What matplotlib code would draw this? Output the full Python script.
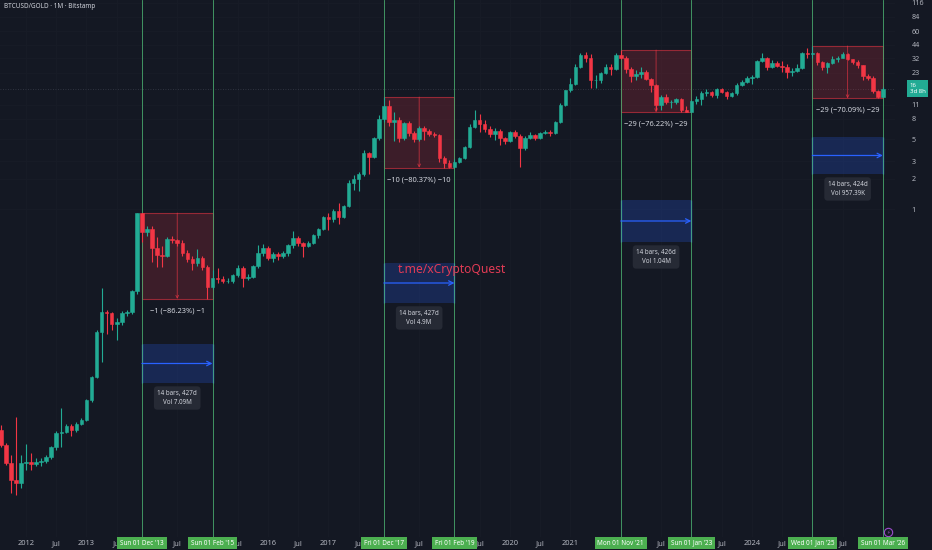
import matplotlib
matplotlib.use("Agg")
import matplotlib.pyplot as plt
import numpy as np
import pandas as pd
from matplotlib.patches import Rectangle
from matplotlib.ticker import NullLocator

plt.rcParams['font.family'] = ['Noto Sans', 'DejaVu Sans']

# BTCUSD/GOLD monthly candles, Aug 2011 .. Mar 2026 (open = previous close)
months = pd.period_range("2011-08", "2026-03", freq="M")
first_open = 0.00617
closes = [
    0.00437, 0.00288, 0.00195, 0.00182, 0.00288,
    0.00295, 0.00282, 0.00295, 0.00302, 0.00331, 0.00417, 0.00575, 0.00589, 0.00676, 0.00617, 0.00708, 0.00776,
    0.0123, 0.0209, 0.0589, 0.0933, 0.0912, 0.0708, 0.0741, 0.0912, 0.0933, 0.151, 0.912, 0.589,
    0.631, 0.407, 0.347, 0.339, 0.501, 0.490, 0.457, 0.363, 0.316, 0.288, 0.324, 0.263,
    0.166, 0.204, 0.200, 0.191, 0.191, 0.219, 0.257, 0.204, 0.209, 0.269, 0.363, 0.407,
    0.324, 0.355, 0.339, 0.363, 0.437, 0.513, 0.457, 0.427, 0.457, 0.550, 0.631, 0.832,
    0.794, 0.955, 0.832, 1.072, 1.820, 1.995, 2.239, 3.631, 3.311, 5.129, 7.943, 10.72,
    7.413, 7.762, 5.129, 7.244, 5.754, 5.012, 6.457, 6.026, 5.623, 5.495, 3.236, 2.884,
    2.630, 2.951, 3.236, 4.169, 6.607, 7.762, 7.079, 6.310, 5.623, 6.026, 5.129, 4.786,
    5.888, 5.370, 4.074, 5.129, 5.495, 5.129, 5.754, 5.888, 5.754, 7.413, 11.09, 15.31,
    17.78, 26.06, 34.43, 32.51, 19.50, 19.63, 22.91, 26.0, 25.12, 34.36, 32.36, 25.12,
    21.38, 22.39, 23.44, 19.95, 17.38, 10.96, 13.18, 11.75, 11.75, 12.59, 9.772, 9.28,
    12.02, 12.59, 14.45, 14.79, 13.80, 15.85, 14.79, 13.49, 14.45, 17.38, 18.62, 20.42,
    20.89, 30.20, 32.36, 26.30, 28.84, 26.92, 26.30, 23.44, 23.99, 25.70, 36.31, 35.48,
    36.6, 29.5, 26.4, 28.6, 31.8, 32.4, 35.2, 31.4, 29.5, 27.4, 21.4, 20.3,
    15.0, 13.3, 16.0,
]
highs = [
    0.00692, 0.00457, 0.00347, 0.00832, 0.00347,
    0.00447, 0.00363, 0.00324, 0.00324, 0.00347, 0.00427, 0.00603, 0.0102, 0.00708, 0.00708, 0.00741, 0.00813,
    0.0126, 0.0214, 0.0617, 0.162, 0.0977, 0.0933, 0.0813, 0.0955, 0.0977, 0.155, 0.912, 0.912,
    0.676, 0.676, 0.525, 0.427, 0.525, 0.537, 0.501, 0.490, 0.389, 0.339, 0.398, 0.339,
    0.275, 0.245, 0.257, 0.214, 0.204, 0.224, 0.275, 0.269, 0.224, 0.275, 0.437, 0.447,
    0.427, 0.372, 0.372, 0.380, 0.447, 0.603, 0.537, 0.468, 0.479, 0.562, 0.646, 0.851,
    0.912, 1.0, 1.148, 1.096, 1.950, 2.188, 2.344, 3.890, 3.715, 5.248, 8.710, 13.18,
    12.30, 9.333, 8.318, 7.413, 7.586, 6.026, 6.761, 6.761, 6.310, 5.888, 5.6, 3.388,
    3.090, 3.162, 3.311, 4.266, 7.079, 9.772, 8.913, 7.762, 6.761, 6.457, 6.310, 5.248,
    6.026, 6.166, 5.6, 5.370, 5.888, 5.623, 5.888, 6.166, 6.166, 7.586, 11.48, 15.49,
    20.42, 28.18, 36.31, 37.15, 35.48, 21.88, 23.44, 28.18, 28.18, 36.31, 38.90, 33.88,
    26.30, 24.55, 26.30, 24.55, 20.42, 17.8, 13.80, 14.13, 12.30, 12.88, 12.88, 10.72,
    12.30, 13.49, 15.14, 15.85, 15.14, 16.22, 16.22, 15.14, 14.79, 18.20, 19.50, 21.38,
    21.88, 30.90, 36.31, 33.11, 30.90, 30.20, 30.20, 28.18, 25.70, 28.18, 37.5, 41.0,
    42.66, 37.5, 30.5, 29.5, 34.0, 33.5, 37.0, 36.5, 31.5, 31.0, 27.8, 22.5,
    21.5, 15.5, 16.6,
]
lows = [
    0.00417, 0.00275, 0.00145, 0.00138, 0.00162,
    0.00246, 0.00246, 0.00269, 0.00269, 0.00288, 0.00316, 0.00389, 0.00417, 0.00575, 0.00537, 0.00589, 0.00692,
    0.00759, 0.01175, 0.0204, 0.0295, 0.0562, 0.0617, 0.0490, 0.0692, 0.0851, 0.0891, 0.141, 0.47,
    0.537, 0.295, 0.263, 0.263, 0.331, 0.457, 0.427, 0.339, 0.295, 0.245, 0.269, 0.245,
    0.126, 0.158, 0.182, 0.182, 0.182, 0.182, 0.209, 0.166, 0.195, 0.204, 0.257, 0.339,
    0.309, 0.295, 0.309, 0.324, 0.339, 0.407, 0.427, 0.331, 0.417, 0.447, 0.513, 0.617,
    0.617, 0.741, 0.708, 0.813, 1.047, 1.549, 1.514, 2.138, 2.239, 3.236, 4.898, 7.413,
    6.761, 4.786, 4.677, 4.898, 5.370, 4.677, 4.786, 4.898, 5.370, 5.248, 2.951, 2.59,
    2.60, 2.60, 2.884, 3.162, 4.074, 6.457, 5.888, 5.888, 5.248, 4.85, 4.365, 4.467,
    4.677, 5.129, 2.630, 3.9, 5.012, 4.898, 5.012, 5.623, 5.370, 5.623, 7.2, 10.72,
    14.79, 17.38, 25.70, 29.51, 16.22, 16.22, 18.20, 22.39, 21.88, 24.55, 31.62, 23.0,
    18.62, 19.50, 20.42, 19.50, 14.79, 9.772, 9.772, 11.22, 10.23, 11.22, 9.40, 9.25,
    9.26, 11.22, 10.96, 13.49, 13.18, 12.88, 14.45, 12.59, 13.18, 13.80, 16.98, 18.20,
    17.78, 20.42, 29.51, 24.55, 25.70, 26.30, 23.44, 20.42, 21.38, 23.5, 25.0, 32.5,
    32.4, 27.5, 24.8, 22.8, 28.0, 29.5, 32.0, 31.0, 28.5, 25.5, 19.5, 19.5,
    14.5, 12.76, 13.1,
]
last_price = "16"
bar_countdown = "3d 8h"

# drawings on the chart
range_periods = [("2013-12", "2015-02"), ("2017-12", "2019-02"), ("2021-11", "2023-01"), ("2025-01", "2026-03")]
range_texts = ["−1 (−86.23%) −1", "−10 (−80.37%) −10", "−29 (−76.22%) −29", "−29 (−70.09%) −29"]
date_boxes = [(0.0182, 0.0447), (0.115, 0.288), (0.468, 1.23), (2.24, 5.25)]
date_texts = ["14 bars, 427d\nVol 7.09M", "14 bars, 427d\nVol 4.9M", "14 bars, 426d\nVol 1.04M", "14 bars, 424d\nVol 957.39K"]
tag_texts = ["Sun 01 Dec '13", "Sun 01 Feb '15", "Fri 01 Dec '17", "Fri 01 Feb '19",
             "Mon 01 Nov '21", "Sun 01 Jan '23", "Wed 01 Jan '25", "Sun 01 Mar '26"]
# time axis labels still visible next to the date tags
time_ticks = ["2012-01", "2012-07", "2013-01", "2013-07", "2014-07", "2015-07", "2016-01", "2016-07",
              "2017-01", "2017-07", "2018-07", "2019-07", "2020-01", "2020-07", "2021-01", "2022-07",
              "2023-07", "2024-01", "2024-07", "2025-07"]
price_ticks = [116, 84, 60, 44, 32, 23, 11, 8, 5, 3, 2, 1]

BG = '#141823'
UP = '#22ab94'
DOWN = '#f23645'
TXT = '#b2b5be'


def month_pos(p):
    p = pd.Period(p, freq="M")
    return (p.year - 2012) * 12 + p.month - 1


x = np.array([month_pos(p) for p in months])
closes = np.array(closes)
highs = np.array(highs)
lows = np.array(lows)
opens = np.r_[first_open, closes[:-1]]

fig = plt.figure(figsize=(9.32, 5.5), dpi=100, facecolor=BG)
ax = fig.add_axes([0, 13 / 550, 895 / 932, 537 / 550])
ax.set_facecolor(BG)
ax.set_yscale('log')
ax.set_xlim(-5.16, 172.4)
ax.set_ylim(5.25e-4, 123.0)
for s in ax.spines.values():
    s.set_visible(False)

ax.set_xticks([month_pos(t) for t in time_ticks])
ax.set_xticklabels([t[:4] if t.endswith("-01") else "Jul" for t in time_ticks])
ax.tick_params(axis='x', length=0, pad=2, labelsize=5.4, labelcolor=TXT)

ax.yaxis.tick_right()
ax.set_yticks(price_ticks)
ax.set_yticklabels([str(v) for v in price_ticks])
ax.yaxis.set_minor_locator(NullLocator())
ax.tick_params(axis='y', length=0, pad=12, labelsize=5.2, labelcolor=TXT)
ax.grid(True, color='#181c27', lw=0.6)
ax.set_axisbelow(True)

# candles
up = closes >= opens
col = np.where(up, UP, DOWN)
ax.vlines(x, lows, highs, colors=col, lw=0.8, zorder=3)
body_lo = np.minimum(opens, closes)
body_hi = np.maximum(opens, closes)
ax.bar(x, body_hi - body_lo, bottom=body_lo, width=0.7, color=col,
       edgecolor=col, linewidth=0.4, zorder=4)

# current price line
ax.axhline(float(last_price), color='#3a3e4a', lw=0.6, ls=(0, (1, 2)), zorder=1)

# range drawings
for (p0, p1), rtxt, (b0, b1), dtxt in zip(range_periods, range_texts, date_boxes, date_texts):
    i0, i1 = month_pos(p0), month_pos(p1)
    sel = (x >= i0) & (x <= i1)
    top = highs[sel].max()
    bot = lows[sel].min()
    xc = (i0 + i1) / 2
    ax.add_patch(Rectangle((i0, bot), i1 - i0, top - bot, facecolor=(0.95, 0.21, 0.27, 0.18),
                           edgecolor=(0.95, 0.21, 0.27, 0.55), lw=0.8, zorder=2))
    ax.annotate('', xy=(xc, bot), xytext=(xc, top),
                arrowprops=dict(arrowstyle='->', color=(0.95, 0.21, 0.27, 0.7), lw=0.6,
                                shrinkA=0, shrinkB=0, mutation_scale=5), zorder=2)
    ax.annotate(rtxt, xy=(xc, bot), xytext=(0, -12), textcoords='offset pixels',
                ha='center', va='center', fontsize=5.4, color='#d1d4dc', zorder=6)

    ax.add_patch(Rectangle((i0, b0), i1 - i0, b1 - b0, facecolor=(0.16, 0.38, 1.0, 0.22),
                           edgecolor='none', zorder=2))
    ax.vlines([i0, i1], b0, b1, colors='#2962ff', lw=0.9, zorder=2)
    ym = np.sqrt(b0 * b1)
    ax.annotate('', xy=(i1, ym), xytext=(i0, ym),
                arrowprops=dict(arrowstyle='->', color='#2962ff', lw=0.9,
                                shrinkA=0, shrinkB=0, mutation_scale=8), zorder=3)
    ax.annotate(dtxt, xy=(xc, b0), xytext=(0, -15), textcoords='offset pixels',
                ha='center', va='center', fontsize=4.5, color='#d1d4dc', linespacing=1.5,
                bbox=dict(boxstyle='round,pad=0.55', fc='#262a35', ec='none'), zorder=6)

# vertical marker lines and date tags
tag_pos = []
for p0, p1 in range_periods:
    tag_pos += [month_pos(p0), month_pos(p1)]
for xp, t in zip(tag_pos, tag_texts):
    ax.axvline(xp, color='#48a86c', lw=0.6, zorder=2)
    ax.text(xp, -0.0112, t, transform=ax.get_xaxis_transform(), ha='center', va='center',
            fontsize=4.6, color='white', clip_on=False, zorder=10,
            bbox=dict(boxstyle='square,pad=0.45', fc='#4caf50', ec='none'))

# watermark
ax.text(84.5, 0.251, "t.me/xCryptoQuest", ha='center', va='center',
        fontsize=8.7, color='#e23b55', zorder=7)

# last price tag
ax.text(1.0165, float(last_price), last_price + "\n" + bar_countdown,
        transform=ax.get_yaxis_transform(), ha='left', va='center', fontsize=4.3,
        color='white', linespacing=1.3, clip_on=False, zorder=10,
        bbox=dict(boxstyle='square,pad=0.45', fc=UP, ec='none'))

# small event marker
ax.plot(171.0, 5.9e-4, marker='o', ms=6, mfc=BG, mec='#9c4dcc', mew=0.8, zorder=9, clip_on=False)
ax.text(171.0, 5.9e-4, "⚡", ha='center', va='center', fontsize=3.5, color='#9c4dcc', zorder=10,
        family=['DejaVu Sans'])

fig.text(4 / 932, 1 - 7 / 550, "BTCUSD/GOLD · 1M · Bitstamp", ha='left', va='center',
         fontsize=4.6, color='#d1d4dc')

fig.savefig("out.png", dpi=100, facecolor=BG)
